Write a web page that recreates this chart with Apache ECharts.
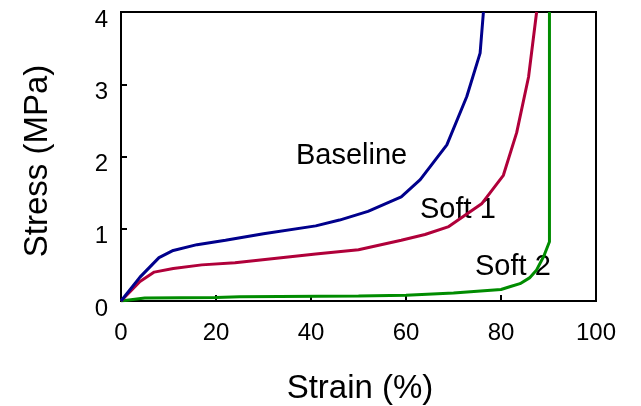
<!DOCTYPE html>
<html>
<head>
<meta charset="utf-8">
<script src="https://cdn.jsdelivr.net/npm/echarts@6/dist/echarts.min.js"></script>
<style>html,body{margin:0;padding:0;background:#fff;}#c{width:641px;height:406px;}</style>
</head>
<body>
<div id="c"></div>
<script>
var baselineStrain = [0, 4, 8, 11, 16, 22, 30, 41, 46, 52, 59, 63, 68.6, 72.8, 75.6, 76.3];
var baselineStress = [0, 0.33, 0.6, 0.7, 0.78, 0.84, 0.93, 1.04, 1.12, 1.24, 1.44, 1.68, 2.16, 2.83, 3.43, 4.0];
var soft1Strain = [0, 4, 7, 11, 17, 24, 41, 50, 59, 64, 69, 76, 80.5, 83.3, 85.8, 87.5];
var soft1Stress = [0, 0.27, 0.4, 0.45, 0.5, 0.53, 0.65, 0.71, 0.84, 0.92, 1.03, 1.35, 1.74, 2.33, 3.1, 4.0];
var soft2Strain = [0, 5, 20, 25, 50, 60, 70, 80, 82, 84, 86, 87.5, 89, 90.2, 90.2];
var soft2Stress = [0, 0.04, 0.05, 0.06, 0.07, 0.08, 0.11, 0.16, 0.2, 0.24, 0.32, 0.43, 0.62, 0.82, 4.0];
var seriesNames = ['Baseline', 'Soft 1', 'Soft 2'];
var xTicks = [0, 20, 40, 60, 80, 100];
var yTicks = [0, 1, 2, 3, 4];

function pairs(xs, ys) { return xs.map(function (x, i) { return [x, ys[i]]; }); }
var FONT = '"Liberation Sans", Arial, "Noto Sans CJK JP", sans-serif';
var chart = echarts.init(document.getElementById('c'), null, {renderer: 'canvas'});
var colors = ['#00008C', '#B0003A', '#008C00'];
var datas = [pairs(baselineStrain, baselineStress), pairs(soft1Strain, soft1Stress), pairs(soft2Strain, soft2Stress)];
chart.setOption({
  animation: false,
  backgroundColor: '#fff',
  grid: {left: 121, right: 45, top: 12, bottom: 105, show: true, borderColor: '#000', borderWidth: 2, backgroundColor: 'transparent'},
  xAxis: {
    type: 'value', min: xTicks[0], max: xTicks[xTicks.length - 1], interval: 20,
    axisLine: {show: true, lineStyle: {color: '#000', width: 2}},
    axisTick: {show: true, inside: true, length: 6, lineStyle: {color: '#000', width: 2}},
    axisLabel: {color: '#000', fontSize: 24, fontFamily: FONT, margin: 20},
    splitLine: {show: false}
  },
  yAxis: {
    type: 'value', min: yTicks[0], max: yTicks[yTicks.length - 1], interval: 1,
    axisLine: {show: true, lineStyle: {color: '#000', width: 2}},
    axisTick: {show: true, inside: true, length: 6, lineStyle: {color: '#000', width: 2}},
    axisLabel: {color: '#000', fontSize: 24, fontFamily: FONT, margin: 13, verticalAlign: 'top', lineHeight: 16},
    splitLine: {show: false}
  },
  series: seriesNames.map(function (n, i) {
    return {name: n, type: 'line', data: datas[i], showSymbol: false, symbol: 'none', smooth: false,
      lineStyle: {color: colors[i], width: 3}, z: 3 - i, clip: true};
  }),
  graphic: [
    {type: 'text', x: 296, y: 156, style: {text: seriesNames[0], font: '29px ' + FONT, fill: '#000', verticalAlign: 'middle', align: 'left'}},
    {type: 'text', x: 420, y: 210, style: {text: seriesNames[1], font: '29px ' + FONT, fill: '#000', verticalAlign: 'middle', align: 'left'}},
    {type: 'text', x: 475, y: 267, style: {text: seriesNames[2], font: '29px ' + FONT, fill: '#000', verticalAlign: 'middle', align: 'left'}},
    {type: 'text', x: 38, y: 161, rotation: Math.PI / 2, style: {text: 'Stress (MPa)', font: '33px ' + FONT, fill: '#000', verticalAlign: 'middle', align: 'center'}},
    {type: 'text', x: 360, y: 389, style: {text: 'Strain (%)', font: '33px ' + FONT, fill: '#000', verticalAlign: 'middle', align: 'center'}}
  ]
});
</script>
</body>
</html>
